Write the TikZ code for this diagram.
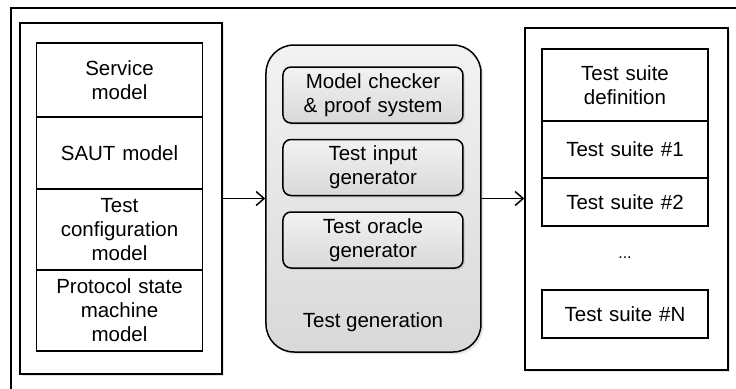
\documentclass[tikz,border=0pt]{standalone}
\usepackage{fontspec}
\setmainfont{Liberation Sans}
\usetikzlibrary{arrows.meta, shadows}

\begin{document}
\begin{tikzpicture}[x=0.5pt, y=-0.5pt, line width=0.75pt,
    font=\fontsize{10.25}{12}\selectfont,
    holder/.style={draw, fill=white, inner sep=0pt,
        drop shadow={shadow xshift=1.2pt, shadow yshift=-1.2pt, opacity=0.2}},
    part/.style={draw, fill=white, inner sep=0pt, align=center,
        minimum width=83pt, text width=80pt},
    tool/.style={draw, rounded corners=4pt, top color=gray!10, bottom color=gray!30,
        inner sep=0pt, align=center, minimum width=90pt, minimum height=28pt,
        text width=86pt, drop shadow={shadow xshift=1pt, shadow yshift=-1pt, opacity=0.2}},
    flow/.style={-{Straight Barb[length=4pt, width=7pt]}}]
            \useasboundingbox (0,0) rectangle (736,388);
            \clip (0,0) rectangle (736,388);
            % frame round the whole figure
            \draw[line width=1pt] (11,8) rectangle (760,400);
            % inputs
            \node[holder, minimum width=101pt, minimum height=175.5pt] (models) at (121,198.5) {};
            \node[part, minimum height=37pt] (service) at (119.5,80) {Service\\model};
            \node[part, minimum height=36pt] (saut) at (119.5,153) {SAUT model};
            \node[part, minimum height=40.5pt] (config) at (119.5,229.5) {Test\\configuration\\model};
            \node[part, minimum height=40.5pt] (protocol) at (119.5,310.5) {Protocol state\\machine\\model};
            % generator
            \node[draw, rounded corners=14pt, top color=gray!10, bottom color=gray!30,
                minimum width=107.5pt, minimum height=153.5pt,
                drop shadow={shadow xshift=1.2pt, shadow yshift=-1.2pt, opacity=0.2}] (gen) at (373.5,198.5) {};
            \node[tool] (checker) at (373,95) {Model checker\\\& proof system};
            \node[tool] (input) at (373,167.5) {Test input\\generator};
            \node[tool] (oracle) at (373,240) {Test oracle\\generator};
            \node (genname) at (373,322) {Test generation};
            % outputs
            \node[holder, minimum width=101.5pt, minimum height=171pt] (suites) at (626.5,199) {};
            \node[part, minimum height=36pt] (definition) at (625,85) {Test suite\\definition};
            \node[part, minimum height=28.5pt] (suite1) at (625,149.5) {Test suite \#1};
            \node[part, minimum height=24pt] (suite2) at (625,202) {Test suite \#2};
            \node (dots) at (625,258) {\footnotesize ...};
            \node[part, minimum height=24pt] (suiteN) at (625,314) {Test suite \#N};
            % arrows
            \draw[flow] (models.east) -- (gen.west);
            \draw[flow] (gen.east) -- (suites.west |- gen.east);
\end{tikzpicture}
\end{document}
